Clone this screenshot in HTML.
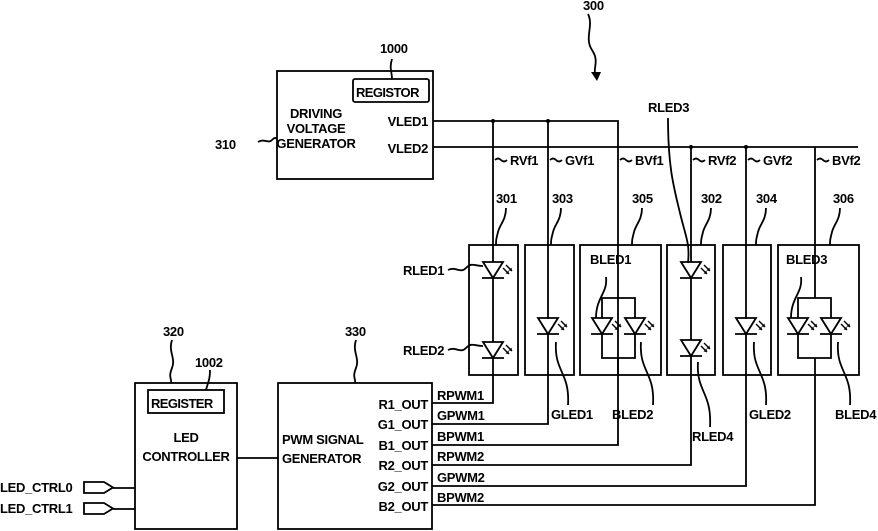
<!DOCTYPE html>
<html><head><meta charset="utf-8"><style>
html,body{margin:0;padding:0;background:#fff}
svg{display:block}
text{font-family:"Liberation Sans",sans-serif;font-weight:bold;font-size:13px;fill:#000;letter-spacing:-0.3px}
</style></head><body>
<svg width="878" height="531" viewBox="0 0 878 531" xmlns="http://www.w3.org/2000/svg">
<defs>
<g id="d">
<polygon points="-10,0 10,0 0,16" fill="none" stroke="#000" stroke-width="1.8"/>
<line x1="-11" y1="16" x2="11" y2="16" stroke="#000" stroke-width="1.8"/>
<path d="M10,6 l6,6 M13,3 l6,6" stroke="#000" stroke-width="1.4" fill="none"/>
<path d="M16,12 l-3.5,-0.5 l3,-3z M19,9 l-3.5,-0.5 l3,-3z" fill="#000"/>
</g>
</defs>
<g stroke="#000" stroke-width="1.8" fill="none">
<rect x="277" y="71" width="156" height="108"/>
<rect x="353" y="79" width="76" height="23" rx="2"/>
<path d="M392,79 c0,-8 -3,-10 0,-20"/>
<path d="M258,142 c6,-4 10,2 14,-2 s4,-1 5,-1"/>
<path d="M433,121 H618 V375"/>
<path d="M433,147 H858"/>
<line x1="493" y1="121" x2="493" y2="262"/>
<line x1="548" y1="121" x2="548" y2="319"/>
<line x1="691" y1="147" x2="691" y2="262"/>
<line x1="746" y1="147" x2="746" y2="319"/>
<line x1="815" y1="147" x2="815" y2="298"/>
<rect x="469" y="245" width="49" height="130"/>
<rect x="525" y="245" width="49" height="130"/>
<rect x="580" y="245" width="81" height="130"/>
<rect x="667" y="245" width="48" height="130"/>
<rect x="723" y="245" width="48" height="130"/>
<rect x="778" y="245" width="81" height="130"/>
<line x1="493" y1="278" x2="493" y2="342"/>
<line x1="691" y1="278" x2="691" y2="340"/>
<path d="M602,318 V298 H635 V318 M602,334 V358 H635 V334"/>
<path d="M798,318 V298 H831 V318 M798,334 V358 H831 V334"/>
<path d="M432,403 H493 V358"/>
<path d="M432,424 H548 V334"/>
<path d="M432,445 H618 V358"/>
<path d="M432,465 H691 V356"/>
<path d="M432,486 H746 V334"/>
<path d="M432,505 H815 V358"/>
<rect x="135" y="383" width="102" height="146"/>
<rect x="148" y="390" width="76" height="23"/>
<rect x="278" y="383" width="154" height="146"/>
<line x1="237" y1="458" x2="278" y2="458"/>
<path d="M84,482 H104 L113,487.5 L104,493 H84Z"/>
<path d="M84,503 H104 L113,508.5 L104,514 H84Z"/>
<line x1="113" y1="488" x2="135" y2="488"/>
<line x1="113" y1="509" x2="135" y2="509"/>
<path d="M172,340 c-4,12 4,18 0,28 s0,10 -1,15"/>
<path d="M210,370 c0,10 -2,12 -4,20"/>
<path d="M356,340 c-4,12 4,18 0,28 s0,10 -1,15"/>
<path d="M588,14 c6,12 -4,24 4,36 s0,18 4,26"/>
<path d="M506,208 c0,12 -6,16 -8,24 s-2,8 -2,13"/>
<path d="M561,208 c0,12 -6,16 -8,24 s-2,8 -2,13"/>
<path d="M642,208 c0,12 -6,16 -8,24 s-2,8 -2,13"/>
<path d="M711,208 c0,12 -6,16 -8,24 s-2,8 -2,13"/>
<path d="M766,208 c0,12 -6,16 -8,24 s-2,8 -2,13"/>
<path d="M840,208 c0,12 -6,16 -8,24 s-2,8 -2,13"/>
<path d="M495,160 q3,-3 6,0 t6,0"/><path d="M550,160 q3,-3 6,0 t6,0"/><path d="M620,160 q3,-3 6,0 t6,0"/>
<path d="M693,160 q3,-3 6,0 t6,0"/><path d="M748,160 q3,-3 6,0 t6,0"/><path d="M817,160 q3,-3 6,0 t6,0"/>
<path d="M448,270 c8,-4 12,4 18,-2 s8,-2 17,-2"/>
<path d="M448,350 c8,-4 12,4 18,-2 s8,-2 17,-2"/>
<path d="M606,277 c2,16 -10,20 -10,41"/>
<path d="M801,277 c2,16 -10,20 -10,41"/>
<path d="M668,118 c0,50 6,70 12,95 s10,30 8,50"/>
<path d="M556,342 c-2,30 14,30 12,63"/>
<path d="M641,342 c-2,30 14,30 12,63"/>
<path d="M698,362 c-2,30 14,30 12,65"/>
<path d="M754,342 c-2,30 14,30 12,63"/>
<path d="M838,342 c-2,30 14,30 12,63"/>
</g>
<polygon points="591,72 601,72 597,81" fill="#000"/>
<g fill="#000">
<circle cx="493" cy="121" r="2"/><circle cx="548" cy="121" r="2"/>
<circle cx="691" cy="147" r="2"/><circle cx="746" cy="147" r="2"/>
</g>
<use href="#d" x="493" y="262"/><use href="#d" x="493" y="342"/>
<use href="#d" x="548" y="318"/>
<use href="#d" x="602" y="318"/><use href="#d" x="635" y="318"/>
<use href="#d" x="691" y="262"/><use href="#d" x="691" y="340"/>
<use href="#d" x="746" y="318"/>
<use href="#d" x="798" y="318"/><use href="#d" x="831" y="318"/>
<text x="583" y="10">300</text>
<text x="380" y="53">1000</text>
<text x="356" y="97" style="font-size:13px;letter-spacing:-0.6px">REGISTOR</text>
<text x="316" y="118" text-anchor="middle">DRIVING</text>
<text x="316" y="133" text-anchor="middle">VOLTAGE</text>
<text x="316" y="148" text-anchor="middle">GENERATOR</text>
<text x="428" y="126" text-anchor="end">VLED1</text>
<text x="428" y="153" text-anchor="end">VLED2</text>
<text x="215" y="149">310</text>
<text x="510" y="165">RVf1</text><text x="565" y="165">GVf1</text><text x="635" y="165">BVf1</text>
<text x="708" y="165">RVf2</text><text x="763" y="165">GVf2</text><text x="832" y="165">BVf2</text>
<text x="496" y="203">301</text><text x="552" y="203">303</text><text x="632" y="203">305</text>
<text x="701" y="203">302</text><text x="756" y="203">304</text><text x="833" y="203">306</text>
<text x="648" y="112">RLED3</text>
<text x="403" y="275">RLED1</text><text x="403" y="355">RLED2</text>
<text x="590" y="264">BLED1</text><text x="786" y="264">BLED3</text>
<text x="551" y="419">GLED1</text><text x="612" y="419">BLED2</text>
<text x="692" y="441">RLED4</text><text x="749" y="419">GLED2</text><text x="835" y="419">BLED4</text>
<text x="163" y="336">320</text><text x="195" y="367">1002</text><text x="345" y="336">330</text>
<text x="151" y="408" style="letter-spacing:-0.6px">REGISTER</text>
<text x="186" y="442" text-anchor="middle">LED</text>
<text x="186" y="461" text-anchor="middle">CONTROLLER</text>
<text x="282" y="444">PWM SIGNAL</text>
<text x="282" y="463">GENERATOR</text>
<text x="428" y="409" text-anchor="end">R1_OUT</text>
<text x="428" y="429" text-anchor="end">G1_OUT</text>
<text x="428" y="450" text-anchor="end">B1_OUT</text>
<text x="428" y="470" text-anchor="end">R2_OUT</text>
<text x="428" y="491" text-anchor="end">G2_OUT</text>
<text x="428" y="511" text-anchor="end">B2_OUT</text>
<text x="437" y="400">RPWM1</text><text x="437" y="420">GPWM1</text><text x="437" y="441">BPWM1</text>
<text x="437" y="461">RPWM2</text><text x="437" y="482">GPWM2</text><text x="437" y="502">BPWM2</text>
<text x="0" y="492">LED_CTRL0</text>
<text x="0" y="513">LED_CTRL1</text>
</svg>
</body></html>
